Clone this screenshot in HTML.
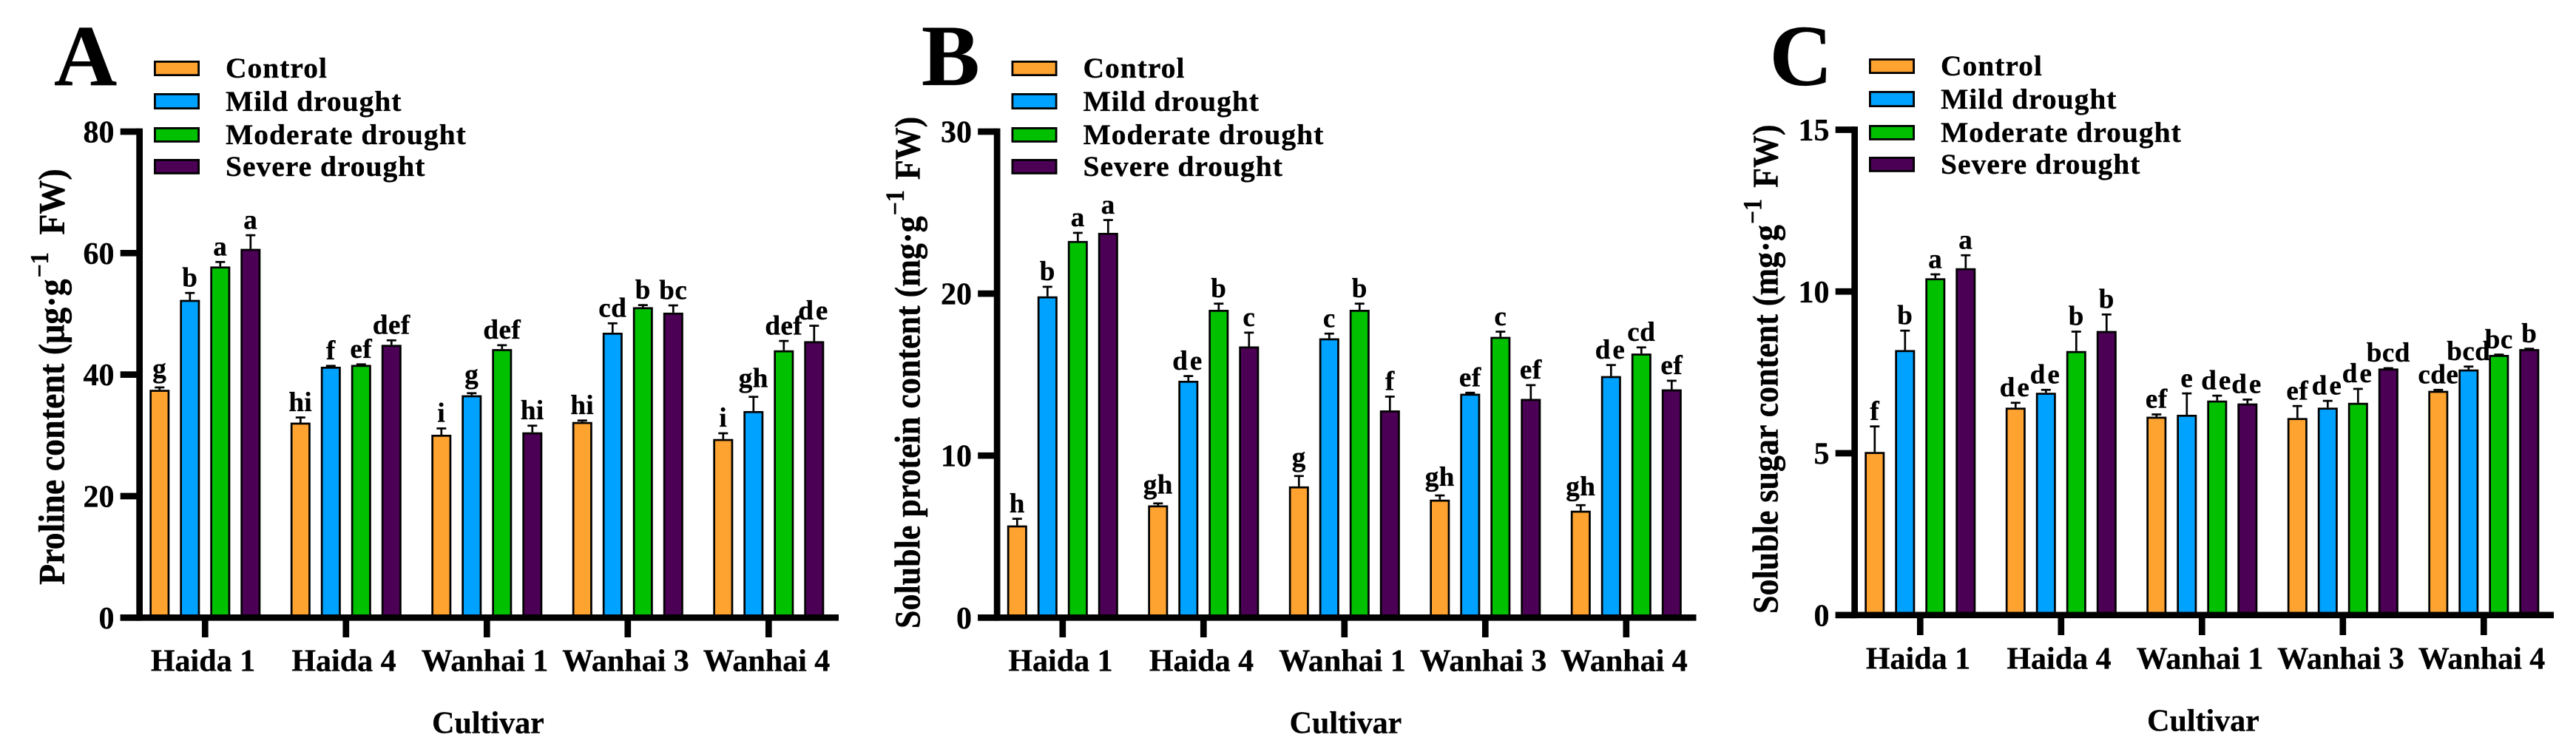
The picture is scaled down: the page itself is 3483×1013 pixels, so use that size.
<!DOCTYPE html>
<html lang="en">
<head>
<meta charset="utf-8">
<title>Proline, soluble protein and soluble sugar content by cultivar</title>
<style>
html,body{margin:0;padding:0;background:#fff;width:3483px;height:1013px;overflow:hidden}
svg{display:block}
text{font-family:"Liberation Serif",serif;font-weight:700;fill:#000;stroke:#000;stroke-width:.35px}
.leg{font-size:39.5px;letter-spacing:1px}
.panel{font-size:118px}
.xt{font-size:42px}
.ytitle-a{font-size:46px}
.ytitle-bc{font-size:44px}
</style>
</head>
<body>
<svg id="figure" xmlns="http://www.w3.org/2000/svg" width="3483" height="1013" viewBox="0 0 3483 1013">
  <rect width="3483" height="1013" fill="#fff"/>

  <g id="chart-a" transform="translate(0,0)">
    <text class="panel" x="73" y="115">A</text>
    <text class="ytitle-a" transform="translate(86.7,791) rotate(-90) scale(1,1.09)">Proline content (μg·g<tspan font-size="32" dx="2" dy="-20">−1</tspan><tspan dx="12" dy="20"> FW)</tspan></text>
    <text class="xt" x="660" y="991.7" text-anchor="middle">Cultivar</text>
    <g>
      <rect x="209.4" y="83.4" width="59.2" height="18.2" fill="#FFA330" stroke="#000" stroke-width="2.8"/>
      <text class="leg" x="305" y="105">Control</text>
      <rect x="209.4" y="127.4" width="59.2" height="19.2" fill="#00A2FF" stroke="#000" stroke-width="2.8"/>
      <text class="leg" x="305" y="150">Mild drought</text>
      <rect x="209.4" y="173.4" width="59.2" height="18" fill="#00C000" stroke="#000" stroke-width="2.8"/>
      <text class="leg" x="305" y="195">Moderate drought</text>
      <rect x="209.4" y="216.4" width="59.2" height="18" fill="#4B0055" stroke="#000" stroke-width="2.8"/>
      <text class="leg" x="305" y="238">Severe drought</text>
    </g>
  </g>

  <g id="chart-b" transform="translate(1159.5,0)">
    <text class="panel" x="86.5" y="115">B</text>
    <text class="ytitle-bc" transform="translate(83.8,850) rotate(-90) scale(1,1.11)">Soluble protein content (mg·g<tspan font-size="32" dx="1" dy="-19">−1</tspan><tspan dx="3" dy="19"> FW)</tspan></text>
    <text class="xt" x="660" y="991.7" text-anchor="middle">Cultivar</text>
    <g>
      <rect x="209.4" y="83.4" width="59.2" height="18.2" fill="#FFA330" stroke="#000" stroke-width="2.8"/>
      <text class="leg" x="305" y="105">Control</text>
      <rect x="209.4" y="127.4" width="59.2" height="19.2" fill="#00A2FF" stroke="#000" stroke-width="2.8"/>
      <text class="leg" x="305" y="150">Mild drought</text>
      <rect x="209.4" y="173.4" width="59.2" height="18" fill="#00C000" stroke="#000" stroke-width="2.8"/>
      <text class="leg" x="305" y="195">Moderate drought</text>
      <rect x="209.4" y="216.4" width="59.2" height="18" fill="#4B0055" stroke="#000" stroke-width="2.8"/>
      <text class="leg" x="305" y="238">Severe drought</text>
    </g>
  </g>

  <g id="chart-c" transform="translate(2319,-3)">
    <text class="panel" x="73.5" y="118">C</text>
    <text class="ytitle-bc" transform="translate(84.3,833) rotate(-90) scale(1,1.11)">Soluble sugar content (mg·g<tspan font-size="32" dx="1" dy="-19.5">−1</tspan><tspan dx="4" dy="19.5"> FW)</tspan></text>
    <text class="xt" x="660" y="991.7" text-anchor="middle">Cultivar</text>
    <g>
      <rect x="209.4" y="83.4" width="59.2" height="18.2" fill="#FFA330" stroke="#000" stroke-width="2.8"/>
      <text class="leg" x="305" y="105">Control</text>
      <rect x="209.4" y="127.4" width="59.2" height="19.2" fill="#00A2FF" stroke="#000" stroke-width="2.8"/>
      <text class="leg" x="305" y="150">Mild drought</text>
      <rect x="209.4" y="173.4" width="59.2" height="18" fill="#00C000" stroke="#000" stroke-width="2.8"/>
      <text class="leg" x="305" y="195">Moderate drought</text>
      <rect x="209.4" y="216.4" width="59.2" height="18" fill="#4B0055" stroke="#000" stroke-width="2.8"/>
      <text class="leg" x="305" y="238">Severe drought</text>
    </g>
  </g>
</svg>

<script>
const categories = ['Haida 1', 'Haida 4', 'Wanhai 1', 'Wanhai 3', 'Wanhai 4'];
const seriesKeys = ['control', 'mild', 'moderate', 'severe'];
const seriesColors = ['#FFA330', '#00A2FF', '#00C000', '#4B0055'];

const prolineTicks = [0, 20, 40, 60, 80];
const prolineControl = [37.5, 32.1, 30.1, 32.2, 29.4];
const prolineMild = [52.3, 41.3, 36.6, 46.9, 34.0];
const prolineModerate = [57.8, 41.6, 44.2, 51.1, 44.0];
const prolineSevere = [60.7, 44.9, 30.5, 50.2, 45.5];
const prolineControlErr = [0.55, 1.0, 1.2, 0.4, 1.1];
const prolineMildErr = [1.3, 0.3, 0.5, 1.7, 2.5];
const prolineModerateErr = [0.9, 0.25, 0.8, 0.5, 1.7];
const prolineSevereErr = [2.4, 0.9, 1.25, 1.35, 2.7];
const prolineControlSig = ['g', 'hi', 'i', 'hi', 'i'];
const prolineMildSig = ['b', 'f', 'g', 'cd', 'gh'];
const prolineModerateSig = ['a', 'ef', 'def', 'b', 'def'];
const prolineSevereSig = ['a', 'def', 'hi', 'bc', 'de'];

const proteinTicks = [0, 10, 20, 30];
const proteinControl = [5.69, 6.93, 8.1, 7.28, 6.6];
const proteinMild = [19.83, 14.62, 17.24, 13.82, 14.91];
const proteinModerate = [23.25, 19.0, 19.0, 17.33, 16.3];
const proteinSevere = [23.75, 16.74, 12.79, 13.5, 14.09];
const proteinControlErr = [0.47, 0.18, 0.7, 0.32, 0.4];
const proteinMildErr = [0.65, 0.35, 0.35, 0.12, 0.74];
const proteinModerateErr = [0.56, 0.44, 0.44, 0.38, 0.44];
const proteinSevereErr = [0.85, 0.91, 0.91, 0.91, 0.59];
const proteinControlSig = ['h', 'gh', 'g', 'gh', 'gh'];
const proteinMildSig = ['b', 'de', 'c', 'ef', 'de'];
const proteinModerateSig = ['a', 'b', 'b', 'c', 'cd'];
const proteinSevereSig = ['a', 'c', 'f', 'ef', 'ef'];

const sugarTicks = [0, 5, 10, 15];
const sugarControl = [5.04, 6.41, 6.13, 6.09, 6.93];
const sugarMild = [8.19, 6.87, 6.19, 6.41, 7.59];
const sugarModerate = [10.41, 8.16, 6.63, 6.56, 8.04];
const sugarSevere = [10.72, 8.78, 6.54, 7.62, 8.22];
const sugarControlErr = [0.82, 0.18, 0.1, 0.4, 0.06];
const sugarMildErr = [0.63, 0.12, 0.69, 0.24, 0.12];
const sugarModerateErr = [0.15, 0.63, 0.18, 0.46, 0.04];
const sugarSevereErr = [0.43, 0.54, 0.15, 0.04, 0.04];
const sugarControlSig = ['f', 'de', 'ef', 'ef', 'cde'];
const sugarMildSig = ['b', 'de', 'e', 'de', 'bcd'];
const sugarModerateSig = ['a', 'b', 'de', 'de', 'bc'];
const sugarSevereSig = ['a', 'b', 'de', 'bcd', 'b'];

const SVGNS = 'http://www.w3.org/2000/svg';
const AXIS_W = 8.7;
const BAR_STROKE = 2.7;
const BAR_OUTER = 27;

function make(parent, tag, props) {
  const el = document.createElementNS(SVGNS, tag);
  for (const k in props) el.setAttribute(k, props[k]);
  parent.appendChild(el);
  return el;
}

function drawChart(rootId, prefix, ticks, values, errors, sigs, yZero, yTop) {
  const root = document.getElementById(rootId);
  const yMax = ticks[ticks.length - 1];
  const yScale = v => yZero - (v / yMax) * (yZero - yTop);
  const groupX = i => 277.3 + i * 190.5;
  const barX = (i, s) => groupX(i) + (s - 1.5) * 41;

  values.forEach((series, s) => {
    series.forEach((v, i) => {
      const cx = barX(i, s);
      const top = yScale(v);
      const errTop = yScale(v + errors[s][i]);

      const stem = make(root, 'line', {x1: cx, x2: cx, y1: top, y2: errTop, stroke: '#000', 'stroke-width': BAR_STROKE});
      
      

      const cap = make(root, 'line', {x1: cx - 6.5, x2: cx + 6.5, y1: errTop + 1.3, y2: errTop + 1.3, stroke: '#000', 'stroke-width': BAR_STROKE});
      
      

      const bar = make(root, 'rect', {
        x: cx - BAR_OUTER / 2 + BAR_STROKE / 2,
        y: top + BAR_STROKE / 2,
        width: BAR_OUTER - BAR_STROKE,
        height: Math.max(0, yZero - top - BAR_STROKE / 2),
        fill: seriesColors[s], stroke: '#000', 'stroke-width': BAR_STROKE
      });
      
      

      const word = sigs[s][i];
      const gap = word.charAt(0) === 'g' ? 12 : 7.5;
      const spacing = word === 'de' ? 3 : 0.5;
      const sig = make(root, 'text', {x: cx, y: errTop - gap, 'text-anchor': 'middle', 'font-size': 37, 'letter-spacing': spacing});
      sig.textContent = word;
      
      
    });
  });

  const yAxis = make(root, 'line', {x1: 188.65, x2: 188.65, y1: yTop - AXIS_W / 2, y2: yZero + AXIS_W / 2, stroke: '#000', 'stroke-width': AXIS_W});
  
  

  const xAxis = make(root, 'line', {x1: 162.7, x2: 1134, y1: yZero, y2: yZero, stroke: '#000', 'stroke-width': AXIS_W});
  
  

  ticks.forEach(t => {
    const y = yScale(t);
    const tick = make(root, 'line', {x1: 162.7, x2: 188.65, y1: y, y2: y, stroke: '#000', 'stroke-width': AXIS_W});
    
    
    const label = make(root, 'text', {x: 154.5, y: y + 14.5, 'text-anchor': 'end', 'font-size': 42});
    label.textContent = String(t);
    
    
  });

  categories.forEach((c, i) => {
    const x = groupX(i);
    const tick = make(root, 'line', {x1: x, x2: x, y1: yZero, y2: 862, stroke: '#000', 'stroke-width': AXIS_W});
    
    
    const label = make(root, 'text', {x: x - 2.8, y: 907.3, 'text-anchor': 'middle', 'font-size': 42});
    label.textContent = c;
    
    
  });
}

drawChart('chart-a', 'proline', prolineTicks,
  [prolineControl, prolineMild, prolineModerate, prolineSevere],
  [prolineControlErr, prolineMildErr, prolineModerateErr, prolineSevereErr],
  [prolineControlSig, prolineMildSig, prolineModerateSig, prolineSevereSig], 835.3, 178);
drawChart('chart-b', 'protein', proteinTicks,
  [proteinControl, proteinMild, proteinModerate, proteinSevere],
  [proteinControlErr, proteinMildErr, proteinModerateErr, proteinSevereErr],
  [proteinControlSig, proteinMildSig, proteinModerateSig, proteinSevereSig], 835.3, 178);
drawChart('chart-c', 'sugar', sugarTicks,
  [sugarControl, sugarMild, sugarModerate, sugarSevere],
  [sugarControlErr, sugarMildErr, sugarModerateErr, sugarSevereErr],
  [sugarControlSig, sugarMildSig, sugarModerateSig, sugarSevereSig], 834.8, 178.5);
</script>
</body>
</html>
